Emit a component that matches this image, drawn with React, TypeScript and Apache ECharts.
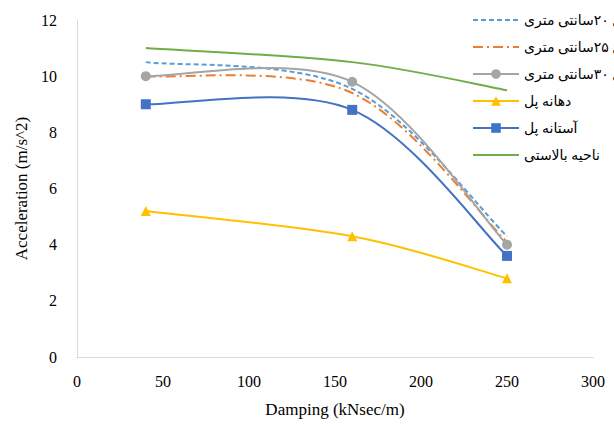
import React, { useEffect, useRef } from "react";
import * as echarts from "echarts";

const damping = [40, 160, 250];
const seriesNames = [
  "دال ۲۰سانتی متری",
  "دال ۲۵سانتی متری",
  "دال ۳۰سانتی متری",
  "دهانه پل",
  "آستانه پل",
  "ناحیه بالاستی",
];
const slab20 = [10.5, 9.55, 4.3];
const slab25 = [10.0, 9.4, 4.1];
const slab30 = [10.0, 9.8, 4.0];
const bridgeSpan = [5.2, 4.3, 2.8];
const abutment = [9.0, 8.8, 3.6];
const ballast = [11.0, 10.5, 9.5];
const xTicks = { min: 0, max: 300, interval: 50 };
const yTicks = { min: 0, max: 12, interval: 2 };

const seriesValues = [slab20, slab25, slab30, bridgeSpan, abutment, ballast];
const colors = ["#5B9BD5", "#ED7D31", "#A5A5A5", "#FFC000", "#4472C4", "#70AD47"];
const dashes: (number[] | null)[] = [[5, 3], [10, 4, 2, 4], null, null, null, null];
const symbols = ["none", "none", "circle", "triangle", "rect", "none"];

const pairs = (ys: number[]) => damping.map((x, i) => [x, ys[i]]);

// Excel-like smoothing: cubic Bezier with Catmull-Rom control points (1/6)
function smoothPath(pts: number[][]) {
  const n = pts.length;
  let d = `M${pts[0][0]},${pts[0][1]}`;
  for (let i = 0; i < n - 1; i++) {
    const p0 = pts[Math.max(0, i - 1)];
    const p1 = pts[i];
    const p2 = pts[i + 1];
    const p3 = pts[Math.min(n - 1, i + 2)];
    const c1x = p1[0] + (p2[0] - p0[0]) / 6;
    const c1y = p1[1] + (p2[1] - p0[1]) / 6;
    const c2x = p2[0] - (p3[0] - p1[0]) / 6;
    const c2y = p2[1] - (p3[1] - p1[1]) / 6;
    d += ` C${c1x},${c1y} ${c2x},${c2y} ${p2[0]},${p2[1]}`;
  }
  return d;
}

export default function App() {
  const ref = useRef<HTMLDivElement>(null);
  useEffect(() => {
    document.body.style.margin = "0";
    const chart = echarts.init(ref.current!, undefined, { renderer: "svg" });
    const serif = "Liberation Serif, serif";
    const legendFont = "Liberation Serif, DejaVu Sans, serif";

    const curveSeries = seriesValues.map((vals, i) => ({
      type: "custom",
      name: seriesNames[i] + " curve",
      z: 2,
      silent: true,
      data: pairs(vals),
      encode: { x: 0, y: 1 },
      renderItem: (params: any, api: any) => {
        if (params.dataIndex !== 0) return null;
        const pts = pairs(vals).map((p) => api.coord(p));
        return {
          type: "path",
          shape: { pathData: smoothPath(pts) },
          style: {
            fill: "none",
            stroke: colors[i],
            lineWidth: 2,
            lineDash: dashes[i] || undefined,
          },
        };
      },
    }));

    const markSeries = seriesValues.map((vals, i) => ({
      name: seriesNames[i],
      type: "line",
      z: 3,
      symbol: symbols[i],
      symbolSize: 10,
      data: pairs(vals),
      itemStyle: { color: colors[i] },
      lineStyle: { color: colors[i], width: 0, opacity: 0 },
    }));

    chart.setOption({
      animation: false,
      backgroundColor: "#ffffff",
      grid: { left: 77, right: 21, top: 20, bottom: 69, containLabel: false },
      legend: {
        orient: "vertical",
        left: 467,
        top: 8,
        itemWidth: 46,
        itemHeight: 12,
        itemGap: 13,
        textStyle: { fontFamily: legendFont, fontSize: 14, color: "#000" },
        data: seriesNames.map((n, i) => ({
          name: n,
          itemStyle: {
            color: colors[i],
            opacity: symbols[i] === "none" ? 0 : 1,
          },
          lineStyle: {
            color: colors[i],
            width: 2,
            opacity: 1,
            type: dashes[i] || "solid",
          },
        })),
      },
      xAxis: {
        type: "value",
        min: xTicks.min,
        max: xTicks.max,
        interval: xTicks.interval,
        name: "Damping (kNsec/m)",
        nameLocation: "middle",
        nameGap: 44,
        nameTextStyle: { fontFamily: serif, fontSize: 17, color: "#000" },
        axisLine: { show: true, lineStyle: { color: "#d9d9d9", width: 1 } },
        axisTick: { show: false },
        splitLine: { show: false },
        axisLabel: { fontFamily: serif, fontSize: 16, color: "#000", margin: 16 },
      },
      yAxis: {
        type: "value",
        min: yTicks.min,
        max: yTicks.max,
        interval: yTicks.interval,
        name: "Acceleration (m/s^2)",
        nameLocation: "middle",
        nameRotate: 90,
        nameGap: 34,
        nameTextStyle: { fontFamily: serif, fontSize: 17, color: "#000" },
        axisLine: { show: true, lineStyle: { color: "#d9d9d9", width: 1 } },
        axisTick: { show: false },
        splitLine: { show: false },
        axisLabel: { fontFamily: serif, fontSize: 16, color: "#000", margin: 20 },
      },
      series: [...curveSeries, ...markSeries],
    });
    return () => chart.dispose();
  }, []);
  return <div ref={ref} style={{ width: 614, height: 426 }} />;
}
